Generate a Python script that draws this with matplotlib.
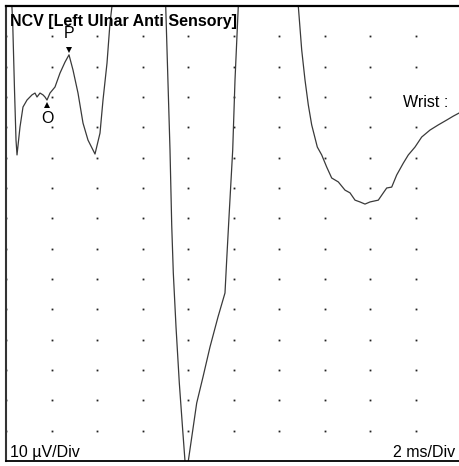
import numpy as np
import matplotlib
matplotlib.use('Agg')
from matplotlib import pyplot as plt

plt.rcParams['font.family'] = ['Liberation Sans', 'DejaVu Sans']

# trace, time in ms and amplitude in uV (0 = bottom of screen)
t1 = [0.22, 0.295, 0.374, 0.44, 0.484, 0.615, 0.747, 0.923, 1.143, 1.275, 1.363,
      1.495, 1.626, 1.714, 1.802, 1.934, 2.154, 2.374, 2.593, 2.769, 2.945, 3.165,
      3.385, 3.604, 3.912, 4.132, 4.264, 4.44, 4.571, 4.659, 4.79, 5.0, 5.8, 6.6, 7.02]
a1 = [156, 144.4, 122.3, 105.8, 100.9, 110.1, 116.7, 119.0, 120.7, 121.3, 120.0,
      121.3, 120.7, 120.0, 119.0, 121.3, 123.3, 127.9, 131.5, 133.9, 128.9, 121.3,
      111.4, 105.8, 101.2, 108.1, 119.0, 131.2, 144.4, 150.0, 158.6, 162, 170, 162, 150.0]

t2 = [7.209, 7.284, 7.354, 7.473, 7.618, 7.767, 7.868, 7.93, 8.013, 8.382, 8.659,
      8.967, 9.319, 9.626, 9.701, 9.802, 9.965, 10.066, 10.211, 10.35, 11.5, 12.75]
a2 = [102.5, 77.8, 62.0, 44.2, 25.7, 10.2, 0, -4.6, 0, 19.1, 27.7,
      37.6, 47.5, 55.4, 66.3, 80.4, 102.5, 125.6, 150.0, 158, 175, 156]

t3 = [12.848, 12.998, 13.143, 13.288, 13.437, 13.684, 13.877, 14.097, 14.316, 14.607,
      14.901, 15.121, 15.341, 15.56, 15.78, 16.0, 16.365, 16.585, 16.734, 16.954,
      17.174, 17.464, 17.684, 17.978, 18.272, 18.637, 19.002, 19.371, 19.662, 19.912, 20.0]
a3 = [150.0, 135.5, 125.6, 117.4, 110.8, 103.5, 100.9, 96.9, 93.3, 92.0,
      89.3, 88.4, 86.0, 85.4, 84.7, 85.4, 86.0, 88.4, 90.0, 90.3,
      94.3, 98.2, 100.9, 103.5, 106.8, 109.1, 110.8, 112.4, 113.7, 114.7, 115.1]

time = t1 + t2 + t3
amp = a1 + a2 + a3

# onset / peak markers
o_time, o_amp = 1.802, 119.0
p_time, p_amp = 2.769, 133.9

fig = plt.figure(figsize=(4.59, 4.66), dpi=100)
ax = fig.add_axes([6 / 459, 5 / 466, 455 / 459, 455 / 466])
ax.set_xlim(0, 20)
ax.set_ylim(0, 150)
ax.set_xticks([])
ax.set_yticks([])

# dotted division grid
gx, gy = np.meshgrid(np.arange(0, 21, 2), np.arange(10, 150, 10))
ax.plot(gx.ravel(), gy.ravel(), ls='none', marker='s', ms=1.3, mew=0, color='#222222')

ax.plot(time, amp, color='#3a3a3a', lw=0.9)

ax.text(0.0088, 0.956, 'NCV [Left Ulnar Anti Sensory]', transform=ax.transAxes,
        fontsize=11.5, fontweight='bold', va='baseline', ha='left')
ax.text(0.8725, 0.778, 'Wrist :', transform=ax.transAxes, fontsize=11.5,
        va='baseline', ha='left')
ax.text(0.0088, 0.0088, '10 µV/Div', transform=ax.transAxes, fontsize=11.5,
        va='baseline', ha='left')
ax.text(0.987, 0.0088, '2 ms/Div', transform=ax.transAxes, fontsize=11.5,
        va='baseline', ha='right')

# marker labels drawn on top of the title, like the original screen
ax.plot(o_time, o_amp - 1.6, marker='^', ms=4.5, color='black', mew=0)
ax.plot(p_time, p_amp + 1.6, marker='v', ms=4.5, color='black', mew=0)
ax.text(o_time, o_amp - 6, 'O', ha='center', va='center', fontsize=11.5)
ax.text(p_time, p_amp + 7.0, 'P', ha='center', va='center', fontsize=11.5,
        bbox=dict(facecolor='white', edgecolor='none', pad=0.3), zorder=5)

ax.spines['left'].set_color('#333333')
ax.spines['left'].set_linewidth(1.5)
ax.spines['top'].set_linewidth(1.6)
ax.spines['bottom'].set_linewidth(1.3)

fig.savefig('out.png', dpi=100)
